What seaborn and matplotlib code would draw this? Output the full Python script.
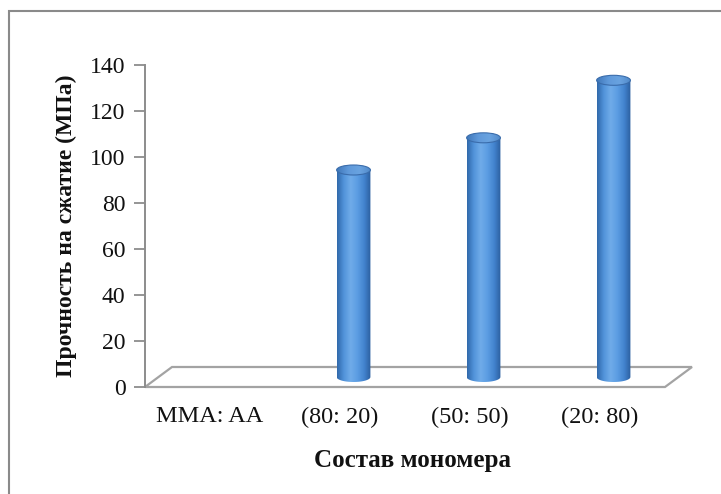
import numpy as np
import pandas as pd
import matplotlib
matplotlib.use("Agg")
import matplotlib.pyplot as plt
import seaborn as sns
from matplotlib.patches import Rectangle, Polygon, Ellipse, PathPatch
from matplotlib.path import Path
from matplotlib.transforms import ScaledTranslation
from matplotlib.colors import LinearSegmentedColormap

# Compressive strength by monomer composition (MMA : AA)
categories = ["MMA: AA", "(80: 20)", "(50: 50)", "(20: 80)"]
strength = [np.nan, 90, 104, 129]
y_ticks = [0, 20, 40, 60, 80, 100, 120, 140]

sns.set_theme(style="white")
plt.rcParams["font.family"] = ["Liberation Serif", "DejaVu Serif"]

W, H, DPI = 721, 494, 100
fig = plt.figure(figsize=(W / DPI, H / DPI), dpi=DPI)
fig.patch.set_facecolor("white")


def fpx(x, y):
    """Figure-pixel position (origin top-left) to figure fraction."""
    return (x / W, 1 - y / H)


ax = fig.add_axes([145 / W, 1 - 387 / H, 520 / W, (387 - 65) / H])
ax.set_facecolor("none")

df = pd.DataFrame({"composition": categories, "strength": strength}).dropna()
sns.barplot(data=df, x="composition", y="strength", order=categories,
            width=0.26, color="#4a8bd6", saturation=1, ax=ax)

ax.set_xlim(-0.5, 3.5)
ax.set_ylim(0, 140)
ax.set_yticks(y_ticks)

# Floor of the pseudo-3D plot area
floor = Polygon([fpx(145, 387), fpx(665, 387), fpx(692, 367), fpx(172, 367)],
                closed=True, transform=fig.transFigure, facecolor="white",
                edgecolor="#a3a3a3", lw=1.6, zorder=0)
fig.add_artist(floor)

# Cylinders sit half-way into the depth of the floor
depth = ScaledTranslation(13.5 / DPI, 10 / DPI, fig.dpi_scale_trans)
cyl_trans = ax.transData + depth

body_cmap = LinearSegmentedColormap.from_list(
    "cyl", ["#3068aa", "#5193da", "#70ace9", "#5c9de3", "#4384cf", "#2b5e9e"])
top_cmap = LinearSegmentedColormap.from_list(
    "cap", ["#4078ba", "#5f99da", "#6aa3e0", "#5089c9"])

px_per_unit = (387 - 65) / 140.0
b = 5.0 / px_per_unit  # half-height of the elliptical ends, in data units
grad = np.linspace(0, 1, 256).reshape(1, -1)

for bar in list(ax.patches):
    x0, w, h = bar.get_x(), bar.get_width(), bar.get_height()
    bar.set_visible(False)
    xc = x0 + w / 2
    t = np.linspace(np.pi, 2 * np.pi, 60)
    bottom = np.column_stack([xc + (w / 2) * np.cos(t), b * np.sin(t)])
    verts = np.vstack([[[x0, h]], bottom, [[x0 + w, h]], [[x0, h]]])
    codes = [Path.MOVETO] + [Path.LINETO] * (len(verts) - 2) + [Path.CLOSEPOLY]
    body = PathPatch(Path(verts, codes), transform=cyl_trans,
                     facecolor="none", edgecolor="none", zorder=2)
    ax.add_patch(body)
    im = ax.imshow(grad, cmap=body_cmap, aspect="auto", zorder=2,
                   extent=(x0, x0 + w, -b, h), interpolation="bicubic")
    im.set_transform(cyl_trans)
    im.set_clip_path(body)

    cap = Ellipse((xc, h), w, 2 * b, transform=cyl_trans, facecolor="none",
                  edgecolor="none", zorder=3)
    ax.add_patch(cap)
    im2 = ax.imshow(grad, cmap=top_cmap, aspect="auto", zorder=3,
                    extent=(x0, x0 + w, h - b, h + b), interpolation="bicubic")
    im2.set_transform(cyl_trans)
    im2.set_clip_path(cap)
    ax.add_patch(Ellipse((xc, h), w, 2 * b, transform=cyl_trans,
                         facecolor="none", edgecolor="#3a6cab", lw=0.8, zorder=4))

ax.set_xlim(-0.5, 3.5)
ax.set_ylim(0, 140)

for side in ("top", "right", "bottom"):
    ax.spines[side].set_visible(False)
ax.spines["left"].set_color("#8c8c8c")
ax.spines["left"].set_linewidth(1.4)

ax.tick_params(axis="y", which="both", left=True, length=8, width=1.3,
               color="#8c8c8c", direction="out", labelsize=17,
               labelcolor="#111111", pad=6)
ax.tick_params(axis="x", length=0, labelsize=17.5, labelcolor="#111111", pad=14)

ax.set_xlabel("")
ax.set_ylabel("Прочность на сжатие (МПа)", fontsize=17, fontweight="bold",
              color="#111111")
ax.yaxis.set_label_coords(-0.13, 0.5)

fig.text(413 / W, 1 - 460 / H, "Состав мономера", ha="center", va="center",
         fontsize=18, fontweight="bold", color="#111111")

# Outer chart frame (continues past the right and bottom edges)
fig.add_artist(Rectangle(fpx(9, 560), (740 - 9) / W, (560 - 11) / H,
                         transform=fig.transFigure, fill=False,
                         edgecolor="#8a8a8a", lw=1.5))

fig.savefig("out.png", dpi=DPI)
